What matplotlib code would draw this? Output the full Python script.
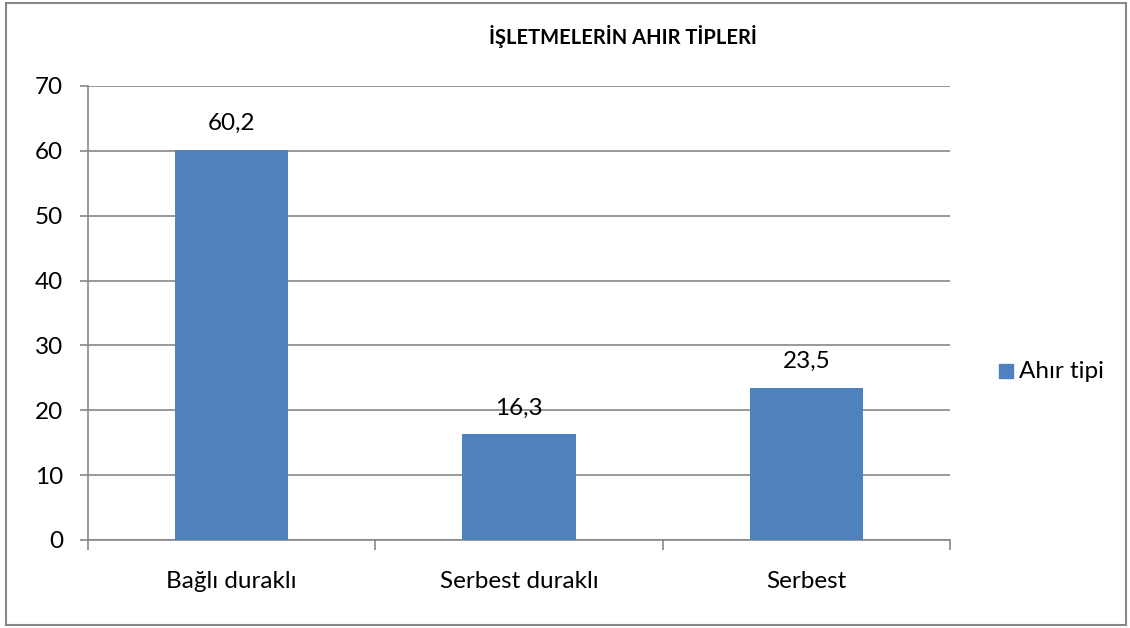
import matplotlib
matplotlib.use("Agg")
import matplotlib.pyplot as plt
from matplotlib.patches import Rectangle

categories = ["Bağlı duraklı", "Serbest duraklı", "Serbest"]
values = [60.2, 16.3, 23.5]
value_labels = ["60,2", "16,3", "23,5"]
yticks = [0, 10, 20, 30, 40, 50, 60, 70]
series_name = "Ahır tipi"
title = "İŞLETMELERİN AHIR TİPLERİ"

plt.rcParams['font.family'] = ['Lato', 'DejaVu Sans']

W, H = 1130, 628
fig = plt.figure(figsize=(W / 100, H / 100), dpi=100)
ax = fig.add_axes([88 / W, 1 - 540 / H, (950 - 88) / W, (540 - 86) / H])

bar_color = "#4F81BD"
grid_color = "#878787"
fs = 17.5
x = list(range(len(categories)))
ax.bar(x, values, width=0.395, color=bar_color, zorder=3)
ax.set_xlim(-0.5, len(categories) - 0.5)
ax.set_ylim(0, 70)
ax.set_yticks(yticks)
ax.set_yticklabels([str(t) for t in yticks], fontsize=fs)
ax.yaxis.grid(True, color=grid_color, linewidth=1.2, zorder=0)
ax.set_axisbelow(True)

for s in ["top", "right"]:
    ax.spines[s].set_visible(False)
for s in ["left", "bottom"]:
    ax.spines[s].set_color(grid_color)
    ax.spines[s].set_linewidth(1.2)

ax.tick_params(axis="y", length=6, width=1.2, color=grid_color, pad=12)
ax.set_xticks([i - 0.5 for i in range(len(categories) + 1)], minor=False)
ax.set_xticklabels([])
ax.tick_params(axis="x", which="major", length=7, width=1.2, color=grid_color, direction="out")
ax.set_xticks(x, minor=True)
ax.set_xticklabels(categories, minor=True, fontsize=fs)
ax.tick_params(axis="x", which="minor", length=0, pad=22)

for xi, v, lab in zip(x, values, value_labels):
    ax.annotate(lab, (xi, v), xytext=(0, 11), textcoords="offset points",
                ha="center", va="bottom", fontsize=fs)

fig.text(623 / W, 1 - 37 / H, title, ha="center", va="center",
         fontsize=14.5, fontweight="bold")

# legend
fig.patches.append(Rectangle((999 / W, 1 - 378 / H), 14 / W, 14 / H,
                             transform=fig.transFigure, color=bar_color))
fig.text(1019 / W, 1 - 371 / H, series_name, ha="left", va="center", fontsize=fs)

# chart border
fig.patches.append(Rectangle((6 / W, 1 - 625 / H), (1126 - 6) / W, (625 - 3) / H,
                             transform=fig.transFigure, fill=False,
                             edgecolor="#888888", linewidth=1.5))

fig.savefig("out.png", dpi=100)
